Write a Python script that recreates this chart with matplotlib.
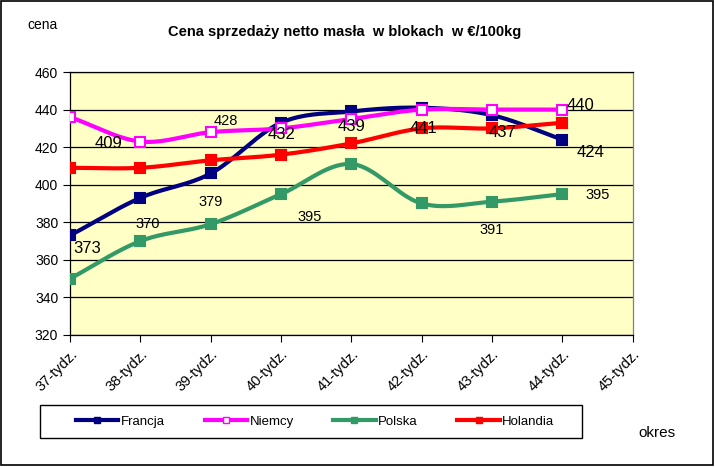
from matplotlib import pyplot as plt
from matplotlib.patches import Rectangle
import numpy as np

weeks = ['37-tydz.', '38-tydz.', '39-tydz.', '40-tydz.', '41-tydz.',
         '42-tydz.', '43-tydz.', '44-tydz.', '45-tydz.']

francja = [373, 393, 406, 433, 439, 441, 437, 424]
niemcy = [436, 423, 428, 430, 435, 440, 440, 440]
polska = [350, 370, 379, 395, 411, 390, 391, 395]
holandia = [409, 409, 413, 416, 422, 430, 430, 433]

# data labels as they sit in the original (text, x index, y value)
label_texts = ['409', '373', '370', '428', '379', '432', '395', '439',
               '441', '437', '391', '440', '424', '395']
label_x = [0.55, 0.25, 1.1, 2.22, 2.0, 3.0, 3.4, 4.0, 5.02, 6.15, 6.0, 7.25, 7.4, 7.5]
label_y = [422, 366, 379, 434, 391, 426.5, 383, 431, 430, 428, 376, 442, 417, 394.5]
label_big = [True, True, False, False, False, True, False, True,
             True, True, False, True, True, False]


def smooth(y, steps=20):
    # Catmull-Rom curve through the points, like Excel's smoothed line
    y = np.asarray(y, dtype=float)
    x = np.arange(len(y), dtype=float)
    px = np.concatenate([[2 * x[0] - x[1]], x, [2 * x[-1] - x[-2]]])
    py = np.concatenate([[2 * y[0] - y[1]], y, [2 * y[-1] - y[-2]]])
    xs, ys = [], []
    t = np.linspace(0, 1, steps, endpoint=False)
    for i in range(1, len(px) - 2):
        for arr, out in ((px, xs), (py, ys)):
            p0, p1, p2, p3 = arr[i - 1], arr[i], arr[i + 1], arr[i + 2]
            out.extend(0.5 * (2 * p1 + (-p0 + p2) * t
                              + (2 * p0 - 5 * p1 + 4 * p2 - p3) * t ** 2
                              + (-p0 + 3 * p1 - 3 * p2 + p3) * t ** 3))
    xs.append(x[-1])
    ys.append(y[-1])
    return np.array(xs), np.array(ys)


def main():
    plt.rcParams['font.family'] = ['Liberation Sans', 'DejaVu Sans']
    fig = plt.figure(figsize=(7.15, 4.67), dpi=100)
    fig.patches.append(Rectangle((0.002, 0.004), 0.995, 0.993, transform=fig.transFigure,
                                 fill=False, edgecolor='black', linewidth=1.2))
    # legend box
    fig.patches.append(Rectangle((0.056, 0.062), 0.758, 0.071, transform=fig.transFigure,
                                 fill=False, edgecolor='black', linewidth=1))
    ax = fig.add_axes([0.098, 0.2827, 0.787, 0.5631])
    ax.set_facecolor('#FFFFC6')

    series = [('Francja', francja, '#000080', '#000080'),
              ('Niemcy', niemcy, '#FF00FF', 'white'),
              ('Polska', polska, '#339966', '#339966'),
              ('Holandia', holandia, '#FF0000', '#FF0000')]
    for name, vals, col, face in series:
        sx, sy = smooth(vals)
        ax.plot(sx, sy, color=col, linewidth=3, solid_capstyle='round', zorder=3)
        ax.plot(range(len(vals)), vals, linestyle='none', marker='s', markersize=7,
                markerfacecolor=face, markeredgecolor=col, markeredgewidth=1.5, zorder=4)
        ax.plot([], [], color=col, linewidth=3, marker='s', markersize=5,
                markerfacecolor=face, markeredgecolor=col, label=name)

    for txt, lx, ly, big in zip(label_texts, label_x, label_y, label_big):
        ax.text(lx, ly, txt, fontsize=12 if big else 10.5, ha='center', va='center', zorder=5)

    ax.set_xlim(0, 8)
    ax.set_ylim(320, 460)
    ax.set_yticks(range(320, 461, 20))
    ax.set_xticks(range(len(weeks)))
    ax.set_xticklabels(weeks, rotation=45, ha='right', rotation_mode='anchor')
    ax.tick_params(labelsize=10, length=5, color='black')
    ax.tick_params(axis='x', labelsize=10.5)
    ax.grid(axis='y', color='black', linewidth=0.9)
    ax.set_axisbelow(True)
    for s in ax.spines.values():
        s.set_color('black')
        s.set_linewidth(0.9)
    ax.spines['right'].set_color('#808080')

    fig.text(0.482, 0.931, 'Cena sprzedaży netto masła  w blokach  w €/100kg',
             ha='center', va='center', fontsize=10.5, fontweight='bold')
    fig.text(0.038, 0.946, 'cena', ha='left', va='center', fontsize=10)
    fig.text(0.893, 0.073, 'okres', ha='left', va='center', fontsize=11)

    fig.legend(loc='center', ncol=4, bbox_to_anchor=(0.441, 0.0974),
               frameon=False, fontsize=9.5, handlelength=3.2,
               handletextpad=0.2, columnspacing=3.0, borderaxespad=0)
    fig.savefig('out.png', dpi=100)


if __name__ == "__main__":
    main()
